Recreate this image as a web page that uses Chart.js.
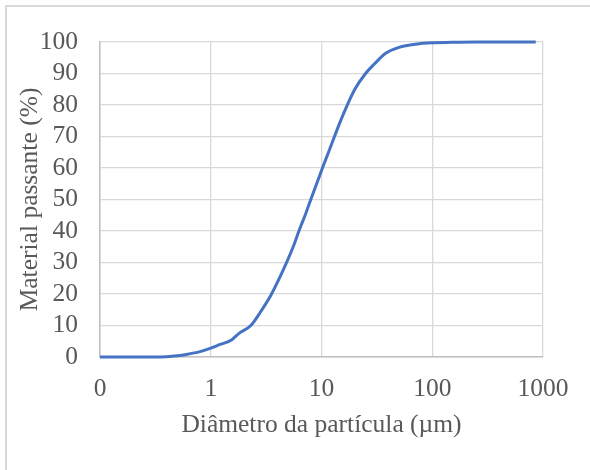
<!DOCTYPE html>
<html>
<head>
<meta charset="utf-8">
<script src="https://cdn.jsdelivr.net/npm/chart.js@4"></script>
<style>
  body { margin: 0; background: #fff; }
  #wrap { position: relative; width: 590px; height: 470px; overflow: hidden; }
  #frame { position: absolute; left: 5px; top: 5px; width: 640px; height: 520px;
           border: 2px solid #d9d9d9; box-sizing: border-box; }
  #myChart { position: absolute; left: 0; top: 0; }
</style>
</head>
<body>
<div id="wrap">
  <div id="frame"></div>
  <canvas id="myChart" width="590" height="470"></canvas>
</div>
<script>
// particle size (µm) and cumulative passing (%)
const sizes = [0.1, 0.2, 0.3, 0.4, 0.5, 0.6, 0.8, 1.0, 1.2, 1.55, 1.8, 2.3, 2.8, 3.5, 4.2, 4.8, 5.6, 6.3, 7.2, 8.1, 9.2, 10.3, 11.6, 13.1, 14.8, 16.7, 20, 25, 30, 38, 50, 65, 82, 100, 150, 250, 500, 860];
const passing = [0, 0, 0, 0.1, 0.4, 0.8, 1.7, 2.8, 3.9, 5.5, 7.5, 10, 14.2, 19.7, 25.3, 29.7, 35.3, 40.3, 45.5, 50.5, 55.7, 60.4, 65.1, 70, 74.8, 79.2, 85, 90, 93, 96.4, 98.3, 99.1, 99.6, 99.8, 99.9, 100, 100, 100];

const xTickValues = [0.1, 1, 10, 100, 1000];
const xTickLabels = ["0", "1", "10", "100", "1000"];

const textColor = "#595959";
const gridColor = "#d9d9d9";
const font = { family: "'Liberation Serif', 'Times New Roman', serif", size: 25.5 };

const points = sizes.map((s, i) => ({ x: s, y: passing[i] }));

const context = document.getElementById("myChart").getContext("2d");

const newChart = new Chart(context, {
  type: "line",
  data: {
    datasets: [
      {
        label: "Material passante",
        data: points,
        borderColor: "#4472c4",
        borderWidth: 3,
        pointRadius: 0,
        cubicInterpolationMode: "monotone",
        clip: false,
      },
    ],
  },
  options: {
    responsive: false,
    animation: false,
    layout: { padding: { left: 0, top: 42, right: 47, bottom: 0 } },
    plugins: { legend: { display: false }, tooltip: { enabled: false } },
    scales: {
      x: {
        type: "logarithmic",
        min: 0.1,
        max: 1000,
        afterBuildTicks: (scale) => {
          scale.ticks = xTickValues.map((v) => ({ value: v }));
        },
        afterFit: (scale) => {
          scale.height = 113;
        },
        ticks: {
          color: textColor,
          font: font,
          padding: 17,
          maxRotation: 0,
          autoSkip: false,
          callback: (value) => {
            const i = xTickValues.indexOf(value);
            return i >= 0 ? xTickLabels[i] : "";
          },
        },
        grid: { color: gridColor, lineWidth: 1.3, drawTicks: false },
        border: { color: "#bfbfbf", width: 1.5 },
        title: {
          display: true,
          text: "Diâmetro da partícula (µm)",
          color: textColor,
          font: font,
          padding: { top: 0, bottom: 29 },
        },
      },
      y: {
        min: 0,
        max: 100,
        afterFit: (scale) => {
          scale.width = 100;
        },
        ticks: { stepSize: 10, autoSkip: false, color: textColor, font: font, padding: 22 },
        grid: { color: gridColor, lineWidth: 1.3, drawTicks: false },
        border: { color: "#bfbfbf", width: 1.5 },
        title: {
          display: true,
          text: "Material passante (%)",
          color: textColor,
          font: font,
          padding: { top: 15, bottom: 0 },
        },
      },
    },
  },
});
</script>
</body>
</html>
